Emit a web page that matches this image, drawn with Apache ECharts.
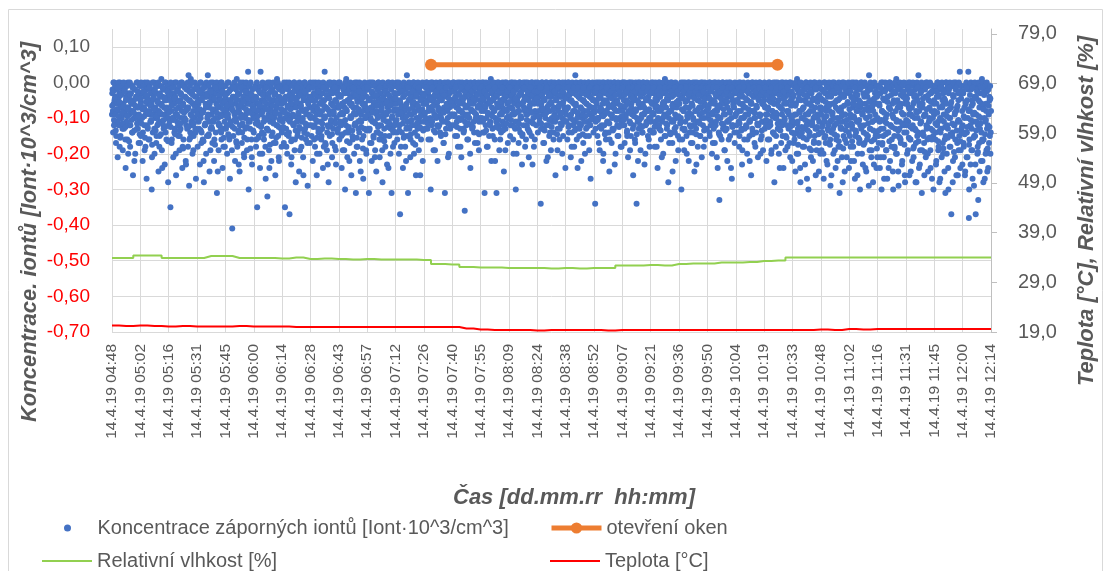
<!DOCTYPE html>
<html>
<head>
<meta charset="utf-8">
<title>Koncentrace záporných iontů</title>
<script src="https://cdn.jsdelivr.net/npm/echarts@6.0.0/dist/echarts.min.js"></script>
<style>
  html, body { margin: 0; padding: 0; background: #fff; }
  #chart { width: 1109px; height: 571px; }
</style>
</head>
<body>
<div id="chart"></div>
<script>
// popisky osy x
const tickLabels = [
  '14.4.19 04:48', '14.4.19 05:02', '14.4.19 05:16', '14.4.19 05:31', '14.4.19 05:45',
  '14.4.19 06:00', '14.4.19 06:14', '14.4.19 06:28', '14.4.19 06:43', '14.4.19 06:57',
  '14.4.19 07:12', '14.4.19 07:26', '14.4.19 07:40', '14.4.19 07:55', '14.4.19 08:09',
  '14.4.19 08:24', '14.4.19 08:38', '14.4.19 08:52', '14.4.19 09:07', '14.4.19 09:21',
  '14.4.19 09:36', '14.4.19 09:50', '14.4.19 10:04', '14.4.19 10:19', '14.4.19 10:33',
  '14.4.19 10:48', '14.4.19 11:02', '14.4.19 11:16', '14.4.19 11:31', '14.4.19 11:45',
  '14.4.19 12:00', '14.4.19 12:14'
];

// koncentrace zapornych iontu v setinach (0,01 Iont·10^3/cm^3), 1. sada mereni
const ionValues = [
  -9,-2,-14,-6,0,-11,-4,-17,-1,-8,-21,-5,-12,-3,0,-15,-7,-10,-2,-19,-6,-13,-1,-9,-24,-4,-11,-16,0,-7,-3,-12,-18,-5,-8,-1,-14,-26,-6,-10,-2,-20,-9,-4,-13,0,-7,-17,-11,-3,
  -5,-15,-1,-10,-22,-7,-3,-12,0,-18,-8,-27,-4,-13,-6,-1,-16,-9,-2,-11,-30,-5,-14,-7,0,-20,-10,-3,-17,-8,-12,-1,-25,-6,-15,-4,-9,1,-19,-11,-2,-13,-7,-23,-5,0,-16,-10,-4,-28,
  -12,-3,-8,-35,-1,-17,-6,-10,-21,-4,-14,0,-9,-26,-5,-11,-2,-15,-7,-19,-3,-13,0,-8,-24,-6,-16,-1,-10,-4,-22,-12,-7,-2,-18,2,-29,-5,-14,1,-11,-3,-20,-8,-15,-6,0,-13,-27,-4,
  -7,-18,-2,-11,-5,-23,-9,0,-14,-3,-16,-8,-28,-1,-12,-6,-20,-4,-10,2,-15,-7,-25,-2,-13,-9,-5,-17,0,-11,-22,-3,-8,-14,-6,-31,-1,-10,-19,-4,-12,-7,0,-16,-2,-24,-9,-13,-5,-18,
  -3,-13,-8,-20,0,-10,-5,-16,-27,-2,-12,-7,-41,-4,-15,-1,-9,-22,-6,-11,1,-18,-3,-14,-8,-25,-1,-10,-5,-17,-12,0,-7,-21,-4,-13,-9,-2,-19,-6,3,-30,-1,-11,-8,-3,-16,-23,-5,-10,
  -14,-4,-9,-1,-18,-6,-35,-11,-2,-15,-7,-24,3,-12,-5,-20,-8,-3,-16,-10,-1,-27,-6,-13,-32,-4,-9,-19,0,-11,-7,-22,-2,-14,-5,-17,-10,-3,-26,-8,-12,1,-6,-15,-21,-4,-9,-1,-13,-18,
  -6,-11,-2,-17,-8,-35,-4,-13,0,-20,-9,-1,-14,-37,-5,-10,-23,-3,-16,-7,-12,0,-19,-6,-28,-2,-11,-15,-4,-9,-25,-1,-13,-7,-18,-3,-10,-21,-5,-14,0,-8,-16,-2,-12,-29,-6,-9,-4,-17,
  -10,-1,-15,-5,-22,-8,-3,-12,-18,0,-7,-26,-11,-4,-14,-2,-20,-9,-6,-16,-1,-13,-24,-5,-10,3,-17,-7,-2,-19,-12,-4,-28,-8,-15,0,-11,-6,-21,-3,-13,-9,-1,-18,-5,-23,-10,-2,-14,-7,
  -4,-16,-9,-1,-12,-24,-6,-19,-2,-11,-7,-30,-14,1,-8,-21,-3,-13,-5,-17,-10,-1,-26,-6,-15,-2,-9,-20,-4,-12,-31,-7,0,-18,-11,-3,-14,-22,-5,-9,-1,-16,-8,-27,-2,-13,-6,-10,-19,-4,
  -8,-2,-13,-31,-5,-17,-10,0,-22,-7,-3,-15,-11,-1,-19,-6,-25,-9,-4,-14,0,-12,-21,-3,-8,-16,-6,-28,-1,-10,-13,-5,-18,-2,-9,-23,-7,-11,0,-15,-4,-20,-12,-31,-6,-1,-14,-8,-17,-3,
  -11,-5,0,-16,-8,-3,-20,-12,-37,-6,-1,-14,-9,-24,-4,-10,-2,-18,-7,-13,2,-15,-31,-5,-9,-1,-21,-11,-3,-12,-6,-17,0,-8,-14,-2,-26,-10,-4,-13,-7,-19,-1,-11,-5,-16,-3,-9,-22,-6,
  -4,-9,-1,-13,-6,0,-11,-3,-16,-7,-2,-10,-30,-5,-12,0,-8,-19,-4,-1,-14,-6,-10,-2,-22,-7,-3,-12,0,-9,-15,-5,-1,-11,-4,-17,-8,-31,-2,-13,-6,0,-10,-3,-20,-7,-1,-12,-5,-9,
  -2,-12,-6,0,-9,-15,-4,-1,-11,-7,-18,-3,-8,0,-13,-5,-21,-10,-2,-6,-14,-1,-36,-9,-4,-12,0,-7,-16,-3,-10,-5,-24,-1,-8,-13,-2,-6,-11,0,-17,-4,-9,-1,-14,-7,-3,-19,-10,-5,
  -7,-1,-10,-4,-14,0,-8,-31,-3,-12,-6,-18,-1,-9,-2,-15,-5,-11,1,-22,-7,-13,-3,-8,-1,-16,-10,-4,-31,-6,0,-12,-2,-19,-9,-5,-14,-1,-7,-11,-3,-25,-8,0,-13,-4,-10,-6,-17,-2,
  -10,-3,-15,-1,-7,-12,0,-5,-20,-9,-2,-13,-30,-6,-1,-11,-4,-17,-8,0,-14,-3,-10,-23,-6,-1,-12,-5,-8,0,-16,-2,-9,-13,-4,-21,-7,-1,-11,-6,-15,0,-3,-10,-18,-5,-8,-2,-12,-4,
  -5,-14,-1,-8,-11,-3,-34,-6,0,-13,-9,-2,-17,-5,-10,0,-22,-7,-1,-12,-4,-15,-8,-2,-19,-6,0,-11,-3,-14,-9,-1,-26,-5,-10,-2,-13,-7,0,-16,-4,-9,-1,-12,-20,-6,-3,-11,-8,0,
  -1,-9,-4,-16,-7,0,-12,-2,-10,-21,-5,-14,-1,-8,-3,-18,-11,2,-6,-13,-2,-24,-9,-4,-15,-1,-7,-12,0,-10,-5,-17,-3,-8,-20,-1,-13,-6,-2,-11,0,-15,-9,-4,-27,-7,-1,-10,-5,-14,
  -8,-3,-34,-11,-1,-6,-15,0,-10,-4,-19,-7,-2,-13,-9,0,-22,-5,-12,-1,-8,-16,-3,-11,-6,0,-14,-25,-2,-9,-4,-17,-10,-1,-7,-13,0,-5,-20,-8,-2,-12,-6,-15,-1,-10,-3,-18,-7,-11,
  -4,-12,0,-7,-17,-2,-10,-5,-14,-1,-21,-8,-3,-11,0,-15,-6,-9,-2,-26,-12,-4,-16,-1,-8,-34,-5,-11,0,-13,-3,-7,-19,-10,-1,-14,-6,0,-9,-23,-2,-12,-5,-8,-1,-15,-4,-10,-18,-3,
  -11,-1,-6,-14,0,-9,-3,-18,-7,-12,-2,-5,-24,-10,0,-13,-4,-8,-16,-1,-11,-6,-20,-3,-9,1,-15,-7,-2,-12,-5,-28,-10,-1,-14,-4,-8,0,-17,-6,-11,-2,-13,-9,-22,-3,-7,-1,-15,-5,
  -6,-16,-2,-10,-30,-4,-13,0,-8,-19,-1,-11,-5,-15,-3,-9,0,-22,-7,-12,-2,-17,-6,-1,-14,-10,-4,-25,0,-8,-13,-3,-11,-18,-5,-1,-9,-15,-2,-7,-21,0,-12,-4,-10,-6,-16,-1,-8,-13,
  -3,-10,-7,0,-15,-2,-12,-5,-20,-9,-1,-13,-6,-17,0,-11,-4,-8,-24,-2,-14,-33,-7,-10,-1,-16,-5,0,-12,-3,-19,-9,-6,-1,-13,-22,-4,-11,0,-8,-15,-2,-10,-27,-5,-12,-1,-7,-17,-3,
  -9,-2,-14,-5,-1,-11,-18,-4,0,-8,-13,-23,-6,-2,-10,-16,-1,-7,-12,2,-20,-5,-9,-3,-15,-11,-1,-26,-6,-13,0,-8,-4,-17,-10,-2,-14,-7,-1,-21,-12,-5,0,-9,-16,-3,-11,-6,-19,-2,
  -5,-13,-1,-9,-22,-3,-11,-7,0,-16,-4,-12,-2,-19,-8,-1,-14,-6,-28,-10,0,-15,-3,-9,-13,-5,-20,-1,-11,-7,-17,-2,-12,0,-24,-6,-10,-4,-15,-1,-8,-18,-3,-13,-9,0,-21,-5,-11,-14,
  -12,-4,-17,-1,-9,-25,-6,-14,1,-11,-20,-3,-8,-15,-28,-5,-10,-1,-18,-7,-13,-2,-23,-9,0,-16,-6,-11,-30,-3,-14,-8,-1,-19,-12,-5,-22,-10,0,-15,-7,-26,-2,-13,-9,-4,-17,-11,-1,-20,
  -7,-19,-2,-12,-5,-27,-10,0,-15,-8,-22,-3,-13,-6,-17,-1,-11,-29,-4,-14,-9,0,-20,-6,-12,-2,-24,-16,-5,-10,-1,-18,-8,-31,-3,-13,-7,-21,0,-11,-15,-4,-25,-9,-2,-17,-12,-6,-1,-14,
  -3,-15,-9,-22,-1,-12,-6,-18,0,-10,-27,-4,-14,-8,-2,-20,-11,-5,-16,-30,-7,-13,0,-9,-23,-3,-12,-17,-6,-1,-25,-10,-4,-15,-8,2,-19,-13,-2,-21,-7,-11,-28,-5,-16,-1,-9,-14,-24,-4,
  -10,-1,-17,-6,-24,-3,-13,-30,-8,0,-15,-21,-5,-11,-2,-19,-9,-27,-4,-14,-7,0,-22,-12,-1,-16,-6,-25,-10,-3,-18,-13,-8,1,-20,-5,-15,-29,-2,-11,-7,-17,-1,-23,-12,-4,-9,-14,-26,-6,
  -5,-14,-20,-2,-11,-7,-26,0,-16,-9,-3,-22,-12,-6,-18,-1,-13,-28,-8,-4,-15,-10,2,-24,-6,-19,-2,-11,-31,-7,-14,-1,-17,-9,-4,-21,-12,0,-16,-25,-5,-10,-3,-19,-13,-8,-27,-1,-15,-6,
  -9,-2,-16,-23,-6,-12,0,-19,-4,-28,-10,-14,-1,-21,-7,-17,-3,-11,-25,-5,-15,0,-20,-8,-13,-30,-2,-18,-10,-6,-37,-1,-14,-22,-4,-12,-9,-16,0,-26,-7,-11,-3,-19,-15,3,-24,-1,-13,-8,
  -12,-3,-18,-7,-26,-1,-14,-21,-5,-10,3,-38,-16,-8,-23,-2,-13,-19,-6,-11,-29,-4,-15,-37,-9,-1,-20,-12,-5,-17,-25,-3,-10,-14,1,-22,-7,-16,-2,-27,-11,-6,-19,-13,-1,-24,-9,-4,-15,-20,-8
];

// 2. sada mereni (posunuta o pul kroku)
const ionValuesB = [
  -3,-8,0,-12,-5,-1,-9,-15,-2,-6,-11,0,-4,-18,-7,-1,-10,-3,-13,-6,0,-8,-2,-16,-5,-11,-1,-7,-20,-4,-9,0,-12,-3,-6,-14,-1,-8,-5,-22,-2,-10,-4,0,-7,-13,-3,-9,-1,-17,
  -6,0,-10,-3,-14,-1,-7,-19,-4,-9,-2,-12,0,-5,-16,-8,-1,-11,-3,-6,-21,0,-9,-4,-13,-2,-7,-1,-15,-10,-5,0,-8,-18,-3,-11,-1,-6,-24,-4,-12,-2,-9,0,-14,-5,-7,-1,-10,-3,
  -2,-11,-5,0,-8,-16,-3,-10,-1,-6,-13,-4,-20,0,-9,-2,-12,-7,-1,-15,-5,-3,-10,0,-18,-6,-1,-11,-4,-8,-23,-2,-13,0,-7,-5,-16,-1,-9,-3,-12,0,-6,-19,-2,-10,-4,-14,-1,-8,
  -9,-1,-6,-13,-3,0,-10,-17,-5,-2,-8,-22,-1,-12,-4,-7,0,-15,-3,-9,-1,-11,-6,-19,0,-4,-13,-2,-8,-5,-16,-1,-10,-3,0,-7,-25,-2,-12,-5,-1,-9,-14,0,-6,-3,-18,-1,-11,-4,
  -1,-7,-12,-3,-9,0,-15,-5,-2,-11,-6,-19,-1,-8,-4,0,-13,-10,-2,-17,-5,-1,-7,-23,-3,-12,0,-9,-6,-14,-2,-4,-20,-1,-10,-5,0,-8,-16,-3,-11,-1,-6,-13,0,-4,-21,-2,-9,-7,
  -5,-10,-1,-4,-16,0,-8,-2,-12,-6,-20,-3,-1,-9,-14,0,-5,-11,-2,-7,-18,-1,-4,-13,0,-10,-3,-24,-6,-1,-8,-15,-2,-11,0,-5,-9,-3,-17,-1,-7,-12,0,-4,-22,-2,-10,-6,-1,-14,
  -8,-2,-13,0,-5,-10,-1,-18,-4,-7,-2,-15,0,-11,-3,-6,-21,-1,-9,-4,-12,0,-16,-2,-7,-5,-1,-14,-10,-3,0,-19,-6,-2,-11,-1,-8,-26,-4,0,-13,-3,-9,-1,-17,-5,-2,-12,-7,0,
  -4,-12,-1,-7,0,-10,-16,-3,-5,-1,-9,-20,-2,-13,0,-6,-4,-11,-1,-15,-8,-3,0,-18,-5,-10,-2,-7,-1,-14,-23,-4,0,-9,-12,-3,-6,-1,-17,-2,-8,0,-11,-5,-19,-1,-7,-3,-13,0,
  -7,0,-11,-4,-15,-1,-6,-9,-2,-19,-3,0,-12,-8,-1,-5,-14,-2,-22,-6,0,-10,-4,-1,-16,-7,-3,-12,0,-9,-2,-18,-5,-1,-13,-8,0,-4,-25,-11,-2,-6,-1,-15,-3,0,-10,-7,-20,-1,
  -2,-9,-5,0,-13,-1,-7,-17,-3,-11,0,-6,-4,-21,-1,-8,-14,-2,-10,0,-5,-16,-3,-1,-12,-7,-19,0,-4,-9,-2,-15,-6,-1,-11,-3,0,-24,-8,-5,-1,-13,-2,-10,0,-18,-6,-3,-12,-1,
  -6,-1,-14,-3,-9,0,-12,-5,-2,-18,-7,-1,-10,-4,0,-15,-8,-2,-22,-6,-1,-11,-3,0,-13,-5,-16,-1,-9,-2,-7,0,-20,-4,-12,-1,-6,-3,-15,0,-10,-2,-8,-26,-1,-5,-13,0,-4,-11,
  -1,-6,-3,-10,0,-5,-13,-2,-8,-1,-4,-16,0,-7,-11,-2,-5,-1,-9,-19,-3,0,-6,-12,-1,-4,-8,-2,-14,0,-10,-5,-1,-3,-17,-7,0,-2,-11,-4,-1,-8,-21,0,-6,-3,-13,-1,-9,-2,
  -5,0,-9,-2,-12,-4,-1,-7,-15,0,-3,-10,-6,-1,-18,-2,-8,0,-5,-13,-1,-4,-11,-7,0,-2,-16,-9,-1,-3,-6,-20,0,-12,-4,-1,-8,-2,-14,0,-5,-10,-1,-3,-17,-7,0,-11,-2,-6,
  -3,-8,0,-11,-1,-5,-14,-2,-7,0,-10,-4,-18,-1,-6,-2,-12,0,-9,-3,-1,-15,-5,0,-8,-22,-2,-11,-4,-1,-7,0,-13,-3,-16,-1,-6,-9,0,-2,-12,-5,-1,-19,-4,0,-8,-3,-10,-1,
  -7,-2,-12,0,-4,-9,-1,-16,-3,-6,0,-11,-2,-20,-5,-1,-8,-13,0,-3,-10,-6,-1,-15,-2,0,-7,-4,-18,-1,-9,-12,0,-3,-5,-1,-14,-8,-2,0,-11,-23,-4,-1,-6,-16,0,-2,-9,-5,
  0,-6,-2,-10,-4,-1,-13,-7,0,-3,-17,-5,-1,-9,-2,-12,0,-8,-21,-3,-1,-6,-14,0,-4,-10,-2,-1,-16,-7,0,-11,-3,-5,-1,-19,-8,0,-2,-13,-6,-1,-4,-10,0,-15,-3,-7,-1,-24,
  -4,-11,-1,-7,0,-14,-3,-5,-1,-9,-18,0,-2,-12,-6,-1,-8,-3,0,-16,-10,-2,-4,-1,-13,0,-7,-22,-3,-9,-1,-5,-11,0,-2,-15,-6,-1,-8,-3,0,-19,-4,-12,-1,-7,-2,0,-10,-5,
  -2,-7,-13,0,-5,-1,-10,-3,-17,-8,0,-4,-2,-12,-1,-6,-20,0,-9,-3,-14,-1,-5,0,-11,-7,-2,-16,-4,0,-1,-9,-13,-3,-6,0,-23,-2,-10,-1,-5,-15,0,-8,-3,-12,-1,-4,-18,0,
  -8,-1,-5,-12,0,-3,-9,-2,-15,-6,-1,0,-11,-19,-4,-7,-2,0,-13,-1,-8,-5,-17,0,-3,-10,-1,-22,-6,-2,0,-12,-4,-1,-9,-14,0,-3,-7,-2,-20,-1,-11,0,-5,-8,-16,-2,-1,-10,
  -3,0,-9,-6,-1,-14,-2,-11,0,-5,-18,-3,-8,-1,-12,0,-4,-7,-2,-21,-1,-10,0,-6,-15,-3,-1,-9,-13,0,-5,-2,-17,-8,-1,0,-11,-4,-25,-2,-7,-1,-14,0,-3,-10,-6,-1,-19,-2,
  -6,-2,-11,0,-4,-16,-1,-8,-3,-13,0,-7,-1,-20,-5,-10,-2,0,-14,-4,-1,-9,-6,-17,0,-3,-12,-1,-8,-2,-23,0,-5,-11,-1,-7,-3,-15,0,-10,-2,-4,-1,-18,-6,0,-13,-3,-8,-1,
  -1,-9,-4,-14,0,-6,-2,-11,-1,-17,-5,0,-8,-3,-12,-1,-21,-7,-2,0,-10,-4,-15,-1,-6,-3,0,-13,-9,-2,-19,-1,-5,0,-11,-7,-3,-16,-1,-8,0,-24,-4,-12,-2,-6,-1,-14,0,-9,
  -5,-12,-1,-3,-8,0,-15,-6,-2,-10,-1,-19,-4,0,-7,-13,-2,-9,-1,-5,-16,0,-3,-11,-22,-1,-6,-8,0,-14,-2,-4,-10,-1,-18,0,-7,-3,-12,-1,-5,-9,0,-20,-2,-15,-6,-1,-11,-4,
  0,-7,-3,-12,-1,-9,-16,-2,-5,0,-11,-4,-20,-1,-8,-14,0,-3,-6,-1,-18,-10,-2,0,-13,-5,-1,-24,-7,-3,0,-9,-15,-2,-11,-1,-4,-19,0,-6,-12,-2,-8,-1,-17,-3,0,-10,-5,-22,
  -4,-11,-1,-16,-6,0,-9,-20,-2,-13,-5,-1,-8,-24,0,-3,-14,-10,-1,-7,-18,-2,-5,0,-12,-27,-4,-9,-1,-15,-6,0,-21,-3,-11,-1,-8,-17,-2,0,-13,-5,-19,-1,-10,-4,-25,0,-7,-14,
  -9,-2,-14,-5,-20,0,-11,-3,-17,-7,-1,-23,-4,-12,0,-8,-16,-2,-26,-6,-1,-13,-10,0,-19,-3,-7,-1,-15,-22,-5,0,-11,-2,-18,-8,-1,-13,-28,-4,0,-9,-16,-3,-1,-21,-6,-12,0,-24,
  -2,-10,-18,-4,0,-13,-7,-1,-22,-5,-15,-3,0,-11,-26,-8,-1,-17,-2,-12,0,-6,-20,-9,-1,-14,-4,0,-24,-10,-3,-16,-1,-7,-29,-2,-13,0,-5,-19,-11,-1,-8,-23,0,-3,-15,-6,-1,-21,
  -6,-15,-1,-11,-3,-21,0,-8,-17,-2,-13,-27,-5,0,-10,-19,-1,-4,-14,-24,-7,0,-12,-2,-18,-9,-1,-30,-5,-15,0,-3,-20,-11,-1,-7,-25,-2,-13,0,-16,-6,-1,-22,-9,-3,0,-12,-28,-4,
  -1,-12,-6,-19,0,-9,-3,-16,-25,-1,-7,-13,0,-21,-4,-10,-2,-17,-28,0,-5,-14,-1,-8,-23,-3,-11,0,-19,-6,-1,-15,-26,-2,-9,0,-13,-4,-20,-1,-11,-7,0,-24,-3,-16,-1,-10,-30,-5,
  -8,-1,-14,-22,-4,0,-11,-18,-2,-7,-27,-1,-13,0,-5,-20,-9,-2,-16,-31,0,-6,-12,-1,-24,-3,-10,0,-18,-7,-1,-15,-28,-4,0,-12,-21,-2,-8,-1,-17,-26,-5,0,-11,-3,-19,-1,-14,-23,
  -3,-17,-1,-10,-25,-6,0,-14,-21,-2,-8,-30,-1,-12,0,-19,-5,-27,-9,-1,-15,0,-23,-4,-11,-2,-18,-33,0,-7,-13,-1,-22,-6,-16,0,-28,-3,-10,-1,-20,-8,0,-25,-12,-2,-17,-5,-1,-14
];

// 3. sada mereni (posunuta o ctvrt kroku)
const ionValuesC = [
  -6.5,-2.5,-10.5,-4.5,-13.5,-7.5,-1.5,-9.5,-5.5,-15.5,-3.5,-8.5,-11.5,-6.5,-2.5,-12.5,-4.5,-9.5,-7.5,-16.5,-3.5,-5.5,-10.5,-1.5,-8.5,-13.5,-6.5,-4.5,-11.5,-2.5,-9.5,-14.5,
  -4.5,-11.5,-7.5,-2.5,-9.5,-15.5,-5.5,-3.5,-12.5,-8.5,-1.5,-6.5,-10.5,-17.5,-4.5,-7.5,-2.5,-13.5,-9.5,-5.5,-11.5,-3.5,-8.5,-14.5,-6.5,-1.5,-10.5,-4.5,-12.5,-7.5,-2.5,-16.5,
  -8.5,-3.5,-12.5,-6.5,-1.5,-10.5,-4.5,-14.5,-7.5,-2.5,-9.5,-5.5,-13.5,-11.5,-3.5,-6.5,-18.5,-8.5,-1.5,-10.5,-4.5,-7.5,-12.5,-2.5,-15.5,-5.5,-9.5,-3.5,-11.5,-6.5,-13.5,-1.5,
  -5.5,-10.5,-2.5,-7.5,-13.5,-4.5,-8.5,-16.5,-1.5,-11.5,-6.5,-3.5,-9.5,-14.5,-5.5,-2.5,-12.5,-7.5,-10.5,-4.5,-17.5,-1.5,-8.5,-6.5,-11.5,-3.5,-13.5,-9.5,-2.5,-7.5,-15.5,-5.5,
  -3.5,-9.5,-6.5,-14.5,-2.5,-11.5,-5.5,-7.5,-12.5,-1.5,-10.5,-4.5,-16.5,-8.5,-3.5,-13.5,-6.5,-1.5,-9.5,-11.5,-5.5,-15.5,-2.5,-7.5,-12.5,-4.5,-10.5,-8.5,-18.5,-3.5,-6.5,-13.5,
  -7.5,-1.5,-11.5,-4.5,-9.5,-15.5,-2.5,-6.5,-12.5,-8.5,-3.5,-14.5,-5.5,-10.5,-1.5,-7.5,-13.5,-4.5,-17.5,-2.5,-9.5,-6.5,-11.5,-3.5,-8.5,-15.5,-5.5,-1.5,-12.5,-10.5,-4.5,-7.5,
  -2.5,-12.5,-5.5,-8.5,-1.5,-14.5,-6.5,-10.5,-3.5,-7.5,-16.5,-4.5,-11.5,-2.5,-9.5,-13.5,-5.5,-1.5,-8.5,-12.5,-3.5,-6.5,-15.5,-10.5,-4.5,-2.5,-11.5,-7.5,-14.5,-5.5,-1.5,-9.5,
  -9.5,-4.5,-1.5,-12.5,-6.5,-3.5,-10.5,-15.5,-7.5,-2.5,-8.5,-13.5,-5.5,-11.5,-1.5,-6.5,-9.5,-17.5,-3.5,-7.5,-12.5,-4.5,-2.5,-10.5,-14.5,-6.5,-8.5,-1.5,-11.5,-5.5,-13.5,-3.5,
  -6.5,-11.5,-3.5,-8.5,-14.5,-1.5,-5.5,-10.5,-7.5,-16.5,-2.5,-12.5,-4.5,-9.5,-6.5,-13.5,-1.5,-8.5,-11.5,-3.5,-15.5,-5.5,-7.5,-2.5,-10.5,-12.5,-4.5,-18.5,-6.5,-1.5,-9.5,-13.5,
  -1.5,-7.5,-13.5,-4.5,-10.5,-2.5,-8.5,-15.5,-5.5,-11.5,-3.5,-6.5,-12.5,-9.5,-1.5,-14.5,-7.5,-4.5,-10.5,-16.5,-2.5,-8.5,-5.5,-12.5,-3.5,-11.5,-6.5,-1.5,-9.5,-13.5,-4.5,-7.5,
  -4.5,-10.5,-7.5,-1.5,-13.5,-5.5,-8.5,-2.5,-11.5,-15.5,-3.5,-6.5,-9.5,-12.5,-1.5,-7.5,-4.5,-14.5,-10.5,-2.5,-5.5,-8.5,-17.5,-3.5,-11.5,-6.5,-1.5,-12.5,-9.5,-4.5,-7.5,-13.5,
  -3.5,-8.5,-1.5,-5.5,-11.5,-2.5,-7.5,-4.5,-10.5,-1.5,-6.5,-13.5,-3.5,-9.5,-2.5,-5.5,-12.5,-1.5,-7.5,-4.5,-10.5,-2.5,-8.5,-3.5,-14.5,-1.5,-6.5,-11.5,-4.5,-9.5,-2.5,-5.5,
  -6.5,-2.5,-9.5,-4.5,-1.5,-12.5,-5.5,-7.5,-3.5,-10.5,-1.5,-8.5,-4.5,-13.5,-2.5,-6.5,-9.5,-1.5,-11.5,-3.5,-5.5,-7.5,-2.5,-12.5,-4.5,-8.5,-1.5,-10.5,-3.5,-6.5,-14.5,-2.5,
  -1.5,-7.5,-4.5,-10.5,-2.5,-6.5,-13.5,-3.5,-8.5,-1.5,-11.5,-5.5,-2.5,-9.5,-4.5,-7.5,-1.5,-12.5,-3.5,-6.5,-10.5,-2.5,-5.5,-8.5,-1.5,-13.5,-4.5,-7.5,-3.5,-11.5,-2.5,-9.5,
  -5.5,-1.5,-10.5,-3.5,-7.5,-2.5,-12.5,-4.5,-8.5,-1.5,-6.5,-11.5,-3.5,-9.5,-2.5,-14.5,-5.5,-1.5,-7.5,-4.5,-10.5,-2.5,-13.5,-6.5,-1.5,-8.5,-3.5,-11.5,-5.5,-2.5,-9.5,-4.5,
  -2.5,-9.5,-5.5,-1.5,-11.5,-3.5,-7.5,-4.5,-13.5,-2.5,-8.5,-1.5,-6.5,-10.5,-3.5,-5.5,-12.5,-1.5,-7.5,-2.5,-9.5,-4.5,-14.5,-1.5,-6.5,-3.5,-11.5,-8.5,-2.5,-5.5,-10.5,-1.5,
  -4.5,-7.5,-1.5,-12.5,-3.5,-9.5,-2.5,-5.5,-10.5,-1.5,-13.5,-6.5,-3.5,-8.5,-1.5,-11.5,-4.5,-2.5,-7.5,-14.5,-1.5,-5.5,-9.5,-3.5,-12.5,-2.5,-6.5,-1.5,-10.5,-4.5,-8.5,-2.5,
  -8.5,-2.5,-5.5,-1.5,-10.5,-4.5,-12.5,-3.5,-7.5,-1.5,-9.5,-2.5,-14.5,-5.5,-1.5,-8.5,-3.5,-11.5,-6.5,-2.5,-4.5,-13.5,-1.5,-7.5,-3.5,-10.5,-5.5,-1.5,-12.5,-2.5,-6.5,-9.5,
  -1.5,-10.5,-3.5,-6.5,-2.5,-13.5,-5.5,-1.5,-8.5,-11.5,-3.5,-4.5,-1.5,-9.5,-2.5,-7.5,-14.5,-1.5,-5.5,-10.5,-3.5,-2.5,-12.5,-6.5,-1.5,-8.5,-4.5,-11.5,-2.5,-1.5,-7.5,-13.5,
  -5.5,-2.5,-8.5,-1.5,-12.5,-4.5,-6.5,-2.5,-10.5,-3.5,-1.5,-13.5,-7.5,-2.5,-5.5,-9.5,-1.5,-11.5,-4.5,-3.5,-8.5,-1.5,-14.5,-2.5,-6.5,-10.5,-3.5,-1.5,-12.5,-5.5,-2.5,-9.5,
  -3.5,-11.5,-1.5,-7.5,-4.5,-2.5,-13.5,-5.5,-1.5,-9.5,-3.5,-8.5,-2.5,-12.5,-1.5,-6.5,-10.5,-4.5,-2.5,-14.5,-1.5,-7.5,-3.5,-11.5,-5.5,-1.5,-8.5,-2.5,-13.5,-4.5,-6.5,-1.5,
  -7.5,-1.5,-4.5,-10.5,-2.5,-8.5,-1.5,-12.5,-5.5,-3.5,-1.5,-9.5,-6.5,-14.5,-2.5,-4.5,-11.5,-1.5,-7.5,-3.5,-13.5,-2.5,-5.5,-1.5,-10.5,-8.5,-3.5,-1.5,-12.5,-6.5,-2.5,-9.5,
  -2.5,-8.5,-5.5,-1.5,-11.5,-3.5,-13.5,-2.5,-6.5,-1.5,-9.5,-4.5,-12.5,-2.5,-7.5,-1.5,-10.5,-5.5,-3.5,-14.5,-1.5,-8.5,-2.5,-6.5,-11.5,-4.5,-1.5,-9.5,-3.5,-13.5,-5.5,-2.5,
  -6.5,-1.5,-10.5,-3.5,-7.5,-12.5,-2.5,-5.5,-1.5,-9.5,-4.5,-14.5,-2.5,-8.5,-1.5,-11.5,-6.5,-3.5,-13.5,-1.5,-7.5,-4.5,-2.5,-10.5,-5.5,-15.5,-1.5,-8.5,-3.5,-12.5,-6.5,-2.5,
  -9.5,-3.5,-14.5,-6.5,-1.5,-11.5,-17.5,-4.5,-8.5,-2.5,-12.5,-7.5,-15.5,-3.5,-10.5,-5.5,-1.5,-13.5,-8.5,-18.5,-2.5,-6.5,-11.5,-4.5,-16.5,-9.5,-1.5,-12.5,-5.5,-14.5,-3.5,-7.5,
  -4.5,-12.5,-7.5,-2.5,-15.5,-5.5,-9.5,-1.5,-13.5,-6.5,-17.5,-3.5,-10.5,-8.5,-2.5,-14.5,-5.5,-11.5,-1.5,-7.5,-16.5,-4.5,-12.5,-9.5,-3.5,-18.5,-6.5,-1.5,-13.5,-10.5,-5.5,-2.5,
  -7.5,-2.5,-11.5,-16.5,-4.5,-9.5,-1.5,-13.5,-6.5,-3.5,-15.5,-10.5,-5.5,-1.5,-12.5,-8.5,-17.5,-3.5,-7.5,-14.5,-2.5,-11.5,-5.5,-9.5,-1.5,-16.5,-6.5,-13.5,-4.5,-10.5,-2.5,-18.5,
  -3.5,-13.5,-6.5,-1.5,-10.5,-17.5,-4.5,-8.5,-2.5,-14.5,-11.5,-5.5,-1.5,-16.5,-7.5,-3.5,-12.5,-9.5,-2.5,-18.5,-5.5,-10.5,-1.5,-13.5,-6.5,-15.5,-3.5,-8.5,-11.5,-2.5,-17.5,-4.5,
  -10.5,-4.5,-1.5,-15.5,-7.5,-12.5,-2.5,-9.5,-18.5,-5.5,-3.5,-13.5,-8.5,-1.5,-16.5,-6.5,-11.5,-2.5,-14.5,-4.5,-9.5,-19.5,-1.5,-7.5,-12.5,-3.5,-15.5,-10.5,-5.5,-2.5,-13.5,-8.5,
  -5.5,-11.5,-2.5,-8.5,-16.5,-3.5,-13.5,-1.5,-10.5,-6.5,-18.5,-4.5,-12.5,-2.5,-9.5,-15.5,-1.5,-7.5,-14.5,-5.5,-11.5,-3.5,-19.5,-8.5,-1.5,-13.5,-6.5,-10.5,-2.5,-16.5,-4.5,-12.5,
  -2.5,-9.5,-14.5,-5.5,-1.5,-12.5,-7.5,-17.5,-3.5,-10.5,-6.5,-1.5,-15.5,-8.5,-4.5,-13.5,-2.5,-19.5,-9.5,-5.5,-11.5,-1.5,-16.5,-7.5,-3.5,-14.5,-10.5,-2.5,-18.5,-6.5,-12.5,-4.5
];

// relativni vlhkost [%], krok pul popisku osy x
const humidity = [
  33.9, 33.9, 34.4, 34.4, 33.9, 33.9, 33.9, 34.3, 34.3, 33.9, 33.9, 33.9, 33.8, 34.0, 33.7, 33.8,
  33.7, 33.6, 33.7, 33.6, 33.6, 33.6, 33.5, 32.7, 32.6, 32.1, 32.0, 32.0, 31.9, 31.9, 31.9, 31.8,
  31.9, 31.8, 31.9, 31.9, 32.4, 32.4, 32.5, 32.4, 32.7, 32.8, 32.8, 33.0, 33.0, 33.1, 33.3, 33.4,
  34.0, 34.0, 34.0, 34.0, 34.0, 34.0, 34.0, 34.0, 34.0, 34.0, 34.0, 34.0, 34.0, 34.0, 34.0
];

// teplota [°C], krok pul popisku osy x
const temperature = [
  20.3, 20.2, 20.3, 20.2, 20.1, 20.2, 20.1, 20.1, 20.1, 20.2, 20.1, 20.1, 20.1, 20.0, 20.0, 20.0,
  20.0, 20.0, 20.0, 20.0, 20.0, 20.0, 20.0, 20.0, 20.0, 19.7, 19.5, 19.4, 19.4, 19.4, 19.3, 19.4,
  19.4, 19.4, 19.4, 19.3, 19.4, 19.4, 19.4, 19.4, 19.4, 19.4, 19.4, 19.4, 19.4, 19.4, 19.4, 19.4,
  19.4, 19.4, 19.5, 19.4, 19.6, 19.5, 19.6, 19.6, 19.6, 19.6, 19.6, 19.6, 19.6, 19.6, 19.6
];

// otevreni oken (zacatek, konec v jednotkach popisku osy x) a hladina v setinach
const windowOpen = [11.25, 23.47];
const windowLevel = 5;

const RIGHT_MIN = 19; // prava osa zacina na 19,0
const steps = tickLabels.length - 1;

const ionData = ionValues.map((v, i) => [i * steps / (ionValues.length - 1), v])
  .concat(ionValuesB.map((v, i) => [(i + 0.5) * steps / ionValuesB.length, v]))
  .concat(ionValuesC.map((v, i) => [(i + 0.25) * steps / ionValuesC.length, v]));
const humData = humidity.map((v, i) => [i * 0.5, v - RIGHT_MIN]);
const tempData = temperature.map((v, i) => [i * 0.5, v - RIGHT_MIN]);
const windowData = windowOpen.map((x) => [x, windowLevel]);

const grey = '#595959';
const gridColor = '#d9d9d9';
const names = [
  'Koncentrace záporných iontů [Iont·10^3/cm^3]',
  'otevření oken',
  'Relativní vlhkost [%]',
  'Teplota [°C]',
];

const chart = echarts.init(document.getElementById('chart'));

const legendBase = {
  selectedMode: false,
  orient: 'horizontal',
  itemWidth: 50,
  itemHeight: 14,
  textStyle: { color: grey, fontSize: 20, fontFamily: 'Liberation Sans' },
};
// cary bez znacky v legende
const noMarker = { color: 'rgba(0,0,0,0)', borderWidth: 0 };

chart.setOption({
  animation: false,
  textStyle: { fontFamily: 'Liberation Sans' },
  grid: { left: 112, right: 118, top: 29, bottom: 239 },
  legend: [
    { ...legendBase, data: [names[0]], left: 59, top: 513, itemHeight: 7 },
    { ...legendBase, data: [names[1]], left: 544, top: 513, lineStyle: { width: 5 } },
    { ...legendBase, data: [names[2]], left: 36, top: 546, itemStyle: noMarker },
    { ...legendBase, data: [names[3]], left: 544, top: 546, itemStyle: noMarker },
  ],
  xAxis: {
    type: 'value',
    min: 0,
    max: steps,
    interval: 1,
    axisLine: { lineStyle: { color: gridColor } },
    axisTick: { show: false },
    splitLine: { show: true, lineStyle: { color: gridColor } },
    axisLabel: {
      rotate: 90,
      margin: 12,
      fontSize: 15.5,
      color: grey,
      formatter: (v) => tickLabels[Math.round(v)] || '',
    },
  },
  yAxis: [
    {
      // levá osa v setinach
      type: 'value',
      min: -70,
      max: 15,
      interval: 10,
      axisLine: { show: false },
      axisTick: { show: false },
      splitLine: { show: true, showMaxLine: false, lineStyle: { color: gridColor } },
      axisLabel: {
        margin: 22,
        fontSize: 19,
        color: (v) => (Number(v) < 0 ? '#ff0000' : grey),
        formatter: (v) => (v % 10 !== 0 ? '' : (v / 100).toFixed(2).replace('.', ',')),
      },
    },
    {
      // pravá osa posunuta o RIGHT_MIN
      type: 'value',
      position: 'right',
      min: 0,
      max: 61,
      interval: 10,
      axisLine: { show: true, lineStyle: { color: '#bfbfbf' } },
      axisTick: { show: true, length: 6, lineStyle: { color: '#bfbfbf' }, customValues: [0, 10, 20, 30, 40, 50, 60] },
      splitLine: { show: false },
      axisLabel: {
        margin: 27,
        fontSize: 20,
        color: grey,
        customValues: [0, 10, 20, 30, 40, 50, 60],
        formatter: (v) => (v % 10 !== 0 ? '' : (v + RIGHT_MIN).toFixed(1).replace('.', ',')),
      },
    },
  ],
  series: [
    {
      name: names[0],
      type: 'scatter',
      yAxisIndex: 0,
      symbol: 'circle',
      symbolSize: 6,
      symbolKeepAspect: true,
      itemStyle: { color: '#4472c4', opacity: 1 },
      emphasis: { disabled: true },
      data: ionData,
      z: 2,
    },
    {
      name: names[1],
      type: 'line',
      yAxisIndex: 0,
      symbol: 'circle',
      symbolSize: 12,
      showAllSymbol: true,
      lineStyle: { width: 5, color: '#ed7d31' },
      itemStyle: { color: '#ed7d31' },
      data: windowData,
      z: 5,
    },
    {
      name: names[2],
      type: 'line',
      yAxisIndex: 1,
      step: 'middle',
      symbol: 'none',
      lineStyle: { width: 2, color: '#92d050' },
      itemStyle: { color: '#92d050' },
      data: humData,
      z: 3,
    },
    {
      name: names[3],
      type: 'line',
      yAxisIndex: 1,
      step: 'middle',
      symbol: 'none',
      lineStyle: { width: 2, color: '#ff0000' },
      itemStyle: { color: '#ff0000' },
      data: tempData,
      z: 3,
    },
  ],
  graphic: [
    {
      type: 'rect',
      silent: true,
      shape: { x: 8.5, y: 9.5, width: 1094, height: 600 },
      style: { fill: 'none', stroke: gridColor, lineWidth: 1 },
    },
    {
      type: 'text',
      x: 30,
      y: 232,
      rotation: Math.PI / 2,
      style: {
        text: 'Koncentrace. iontů [Iont·10^3/cm^3]',
        font: 'italic bold 22px "Liberation Sans"',
        fill: grey,
        align: 'center', textAlign: 'center',
        verticalAlign: 'middle', textVerticalAlign: 'middle',
      },
    },
    {
      type: 'text',
      x: 1087,
      y: 211,
      rotation: Math.PI / 2,
      style: {
        text: 'Teplota [°C], Relativní vlhkost [%]',
        font: 'italic bold 22px "Liberation Sans"',
        fill: grey,
        align: 'center', textAlign: 'center',
        verticalAlign: 'middle', textVerticalAlign: 'middle',
      },
    },
    {
      type: 'text',
      x: 574,
      y: 498,
      style: {
        text: 'Čas [dd.mm.rr  hh:mm]',
        font: 'italic bold 22px "Liberation Sans"',
        fill: grey,
        align: 'center', textAlign: 'center',
        verticalAlign: 'middle', textVerticalAlign: 'middle',
      },
    },
  ],
});
</script>
</body>
</html>
